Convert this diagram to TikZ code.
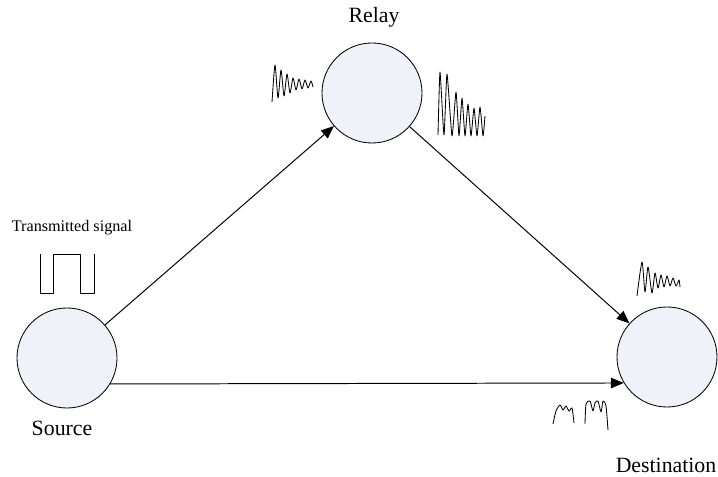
\documentclass[tikz,border=0pt]{standalone}
\usepackage{fontspec}
\setmainfont{Liberation Serif}
\usetikzlibrary{arrows.meta}
\definecolor{nodefill}{RGB}{239,243,249}
\tikzset{
  station/.style={circle,draw,line width=0.6pt,fill=nodefill,minimum size=2.5cm,inner sep=0pt},
  biglabel/.style={font=\fontsize{15.5}{18}\selectfont},
  wave/.style={line width=0.6pt,line join=round}
}

\begin{document}
\begin{tikzpicture}[x=0.025cm,y=-0.025cm,>={Triangle[length=3.2mm,width=2.6mm]}]
\useasboundingbox (0,0) rectangle (718,477);
\node[station] (src) at (67,358) {};
\node[station] (rly) at (372,93) {};
\node[station] (dst) at (667,357) {};
\node[biglabel] (rlytxt) at (374,17) {Relay};
\node[biglabel] (srctxt) at (62,428) {Source};
\node[biglabel] (dsttxt) at (666,465) {Destination};
\node[font=\fontsize{11.5}{14}\selectfont] (txtxt) at (72,228) {Transmitted signal};
\draw[->,line width=0.7pt] (src) -- (rly);
\draw[->,line width=0.7pt] (rly) -- (dst);
\draw[->,line width=0.7pt] (src.-31) -- (dst.211);
% transmitted pulse
\draw[wave] (40,254) |- (53,293) |- (80,254) |- (94,293) -- (94,254);
% received signals
\draw[wave] plot[smooth,tension=0.4] coordinates {(272,102) (275,65) (278,98) (281,70) (284,96) (287,74) (290,93) (293,78) (296,90) (299,79) (302,89) (305,80) (308,88) (311,81) (313,87)};
\draw[wave] plot[smooth,tension=0.3] coordinates {(438,135) (440,72) (444,135) (447,74) (452,136) (456,92) (459,136) (462,98) (465,136) (468,104) (471,136) (474,108) (477,136) (480,107) (483,136) (485,116)};
\draw[wave] plot[smooth,tension=0.4] coordinates {(637,296) (642,262) (645,292) (648,267) (652,293) (655,273) (658,288) (661,275) (664,287) (667,276) (670,286) (673,278) (676,286) (679,280) (680,287)};
\draw[wave] plot[smooth,tension=0.4] coordinates {(553,424) (556,411) (560,405) (563,410) (566,406) (569,411) (572,408) (574,423)};
\draw[wave] plot[smooth,tension=0.4] coordinates {(585,424) (586,404) (590,401) (593,411) (595,403) (598,401) (601,412) (603,401) (606,406) (608,430)};
\end{tikzpicture}
\end{document}
